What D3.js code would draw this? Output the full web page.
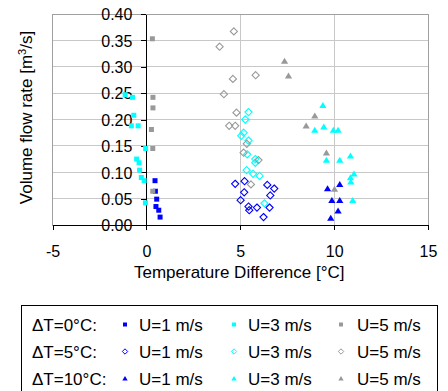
<!DOCTYPE html>
<html><head><meta charset="utf-8">
<script src="https://cdn.jsdelivr.net/npm/d3@7"></script>
<style>
body{margin:0;background:#fff;}
text{font-family:"Liberation Sans",Arial,sans-serif;fill:#000;}
</style></head>
<body><svg id="c" width="448" height="391"></svg>
<script>
// ---- data ----
const xTicks = [-5, 0, 5, 10, 15];
const yTicks = [0, 0.05, 0.10, 0.15, 0.20, 0.25, 0.30, 0.35, 0.40];
const rowLabels = ["\u0394T=0\u00b0C:", "\u0394T=5\u00b0C:", "\u0394T=10\u00b0C:"];
const speedLabels = ["U=1 m/s", "U=3 m/s", "U=5 m/s"];
const speedColors = ["#0000ff", "#00ffff", "#999999"];

// dT = 0 (squares)
const dT0_U1 = [[0.46,0.084],[0.48,0.064],[0.55,0.049],[0.51,0.035],[0.66,0.028],[0.73,0.015]];
const dT0_U3 = [[-1.13,0.247],[-0.74,0.242],[-0.67,0.208],[-0.80,0.188],[-0.44,0.188],[-0.04,0.145],
                [-0.52,0.125],[-0.39,0.118],[-0.36,0.104],[-0.27,0.090],[-0.12,0.084],[-0.05,0.042]];
const dT0_U5 = [[0.32,0.353],[0.35,0.242],[0.35,0.222],[0.27,0.181],[0.34,0.145],[0.34,0.064]];
// dT = 5 (diamonds)
const dT5_U1 = [[4.73,0.078],[5.23,0.083],[6.44,0.076],[6.81,0.069],[5.21,0.062],[6.60,0.056],
                [5.02,0.047],[5.44,0.035],[5.48,0.028],[5.89,0.033],[6.56,0.033],[6.24,0.015]];
const dT5_U3 = [[5.44,0.214],[5.27,0.200],[5.18,0.175],[5.05,0.169],[5.44,0.160],[5.37,0.134],
                [5.80,0.125],[5.80,0.118],[5.34,0.104],[5.68,0.097],[6.03,0.093],[6.29,0.041]];
const dT5_U5 = [[4.66,0.367],[3.90,0.338],[5.82,0.284],[4.61,0.277],[4.13,0.248],[4.80,0.213],
                [4.41,0.188],[4.73,0.188],[5.35,0.154],[5.18,0.137],[5.97,0.123],[5.57,0.077]];
// dT = 10 (triangles)
const dT10_U1 = [[9.65,0.069],[10.30,0.077],[9.88,0.047],[10.30,0.047],[10.21,0.027],[9.82,0.013]];
const dT10_U3 = [[9.40,0.227],[9.45,0.186],[8.97,0.180],[9.96,0.180],[10.21,0.180],[9.59,0.123],
                 [10.30,0.123],[10.87,0.131],[11.06,0.097],[10.87,0.090],[10.89,0.082],[10.99,0.047]];
const dT10_U5 = [[7.36,0.311],[7.57,0.283],[8.97,0.207],[8.51,0.188],[9.59,0.137],[10.02,0.068]];

const seriesRows = [
  {shape:"square",   sets:[dT0_U1, dT0_U3, dT0_U5]},
  {shape:"diamond",  sets:[dT5_U1, dT5_U3, dT5_U5]},
  {shape:"triangle", sets:[dT10_U1, dT10_U3, dT10_U5]}
];

// ---- drawing ----
const svg = d3.select("#c");
const L = 52.5, R = 428, T = 14, B = 225;
const x = d3.scaleLinear().domain([-5, 15]).range([L, R]);
const y = d3.scaleLinear().domain([0, 0.4]).range([B, T]);

function shapePath(shape, s) {
  if (shape === "square") return `M${-s/2},${-s/2}h${s}v${s}h${-s}Z`;
  if (shape === "diamond") return `M0,${-s}L${s},0L0,${s}L${-s},0Z`;
  return `M0,${-s*0.55}L${s*0.6},${s*0.45}L${-s*0.6},${s*0.45}Z`;
}

// gridlines
svg.append("g").selectAll("line.h").data(yTicks.filter(v => v > 0 && v < 0.4)).join("line")
  .attr("x1", L).attr("x2", R).attr("y1", d => y(d)).attr("y2", d => y(d))
  .attr("stroke", "#c8c8c8").attr("stroke-width", 1).attr("shape-rendering", "crispEdges");
svg.append("g").selectAll("line.v").data(xTicks.filter(v => v !== 0 && v > -5 && v < 15)).join("line")
  .attr("x1", d => x(d)).attr("x2", d => x(d)).attr("y1", T).attr("y2", B)
  .attr("stroke", "#c8c8c8").attr("stroke-width", 1).attr("shape-rendering", "crispEdges");
svg.append("rect").attr("x", L).attr("y", T).attr("width", R - L).attr("height", B - T)
  .attr("fill", "none").attr("stroke", "#a0a0a0").attr("shape-rendering", "crispEdges");

// x axis
const gx = svg.append("g").attr("transform", `translate(0,${B})`)
  .call(d3.axisBottom(x).tickValues(xTicks).tickFormat(d => String(d)).tickSize(5).tickSizeOuter(0));
gx.selectAll("text").attr("y", 32).attr("dy", null).style("font-size", "16px");
gx.select(".domain").attr("stroke", "#000").attr("shape-rendering", "crispEdges");
gx.selectAll(".tick line").attr("stroke", "#000").attr("shape-rendering", "crispEdges");

// y axis at x=0
const gy = svg.append("g").attr("transform", `translate(${x(0)},0)`)
  .call(d3.axisLeft(y).tickValues(yTicks).tickFormat(d3.format(".2f")).tickSize(5).tickSizeOuter(0).tickPadding(9));
gy.selectAll("text").style("font-size", "16px").attr("dy", "0.36em");
gy.select(".domain").attr("stroke", "#000").attr("shape-rendering", "crispEdges");
gy.selectAll(".tick line").attr("stroke", "#000").attr("shape-rendering", "crispEdges");

// axis titles
svg.append("text").attr("x", (L + R) / 2 - 1).attr("y", 278).attr("text-anchor", "middle")
  .style("font-size", "17px").text("Temperature Difference [\u00b0C]");
const yt = svg.append("text").attr("transform", `translate(32,${(T + B) / 2 - 2}) rotate(-90)`)
  .attr("text-anchor", "middle").style("font-size", "17px");
yt.append("tspan").text("Volume flow rate [m");
yt.append("tspan").attr("dy", "-6").style("font-size", "11px").text("3");
yt.append("tspan").attr("dy", "6").text("/s]");

// markers
const sizes = {square: 5, diamond: 3.6, triangle: 6};
seriesRows.forEach(row => {
  row.sets.forEach((set, i) => {
    const hollow = row.shape === "diamond";
    svg.append("g").selectAll("path").data(set).join("path")
      .attr("transform", d => `translate(${x(d[0])},${y(d[1])})`)
      .attr("d", shapePath(row.shape, sizes[row.shape]))
      .attr("fill", hollow ? "none" : speedColors[i])
      .attr("stroke", hollow ? speedColors[i] : "none")
      .attr("stroke-width", 1.1);
  });
});

// legend
svg.append("rect").attr("x", 21.5).attr("y", 305.5).attr("width", 416).attr("height", 100)
  .attr("fill", "none").attr("stroke", "#000").attr("shape-rendering", "crispEdges");
const rowBase = [331, 358, 385];
const markX = [125, 234, 341];
const textX = [139, 248, 357];
const legSizes = {square: 4, diamond: 2.7, triangle: 4.5};
seriesRows.forEach((row, r) => {
  svg.append("text").attr("x", 32).attr("y", rowBase[r]).style("font-size", "17px").text(rowLabels[r]);
  speedLabels.forEach((lab, i) => {
    const hollow = row.shape === "diamond";
    svg.append("path").attr("transform", `translate(${markX[i]},${rowBase[r] - 6.5})`)
      .attr("d", shapePath(row.shape, legSizes[row.shape]))
      .attr("fill", hollow ? "none" : speedColors[i])
      .attr("stroke", hollow ? speedColors[i] : "none").attr("stroke-width", 1);
    svg.append("text").attr("x", textX[i]).attr("y", rowBase[r]).style("font-size", "17px").text(lab);
  });
});
</script></body></html>
